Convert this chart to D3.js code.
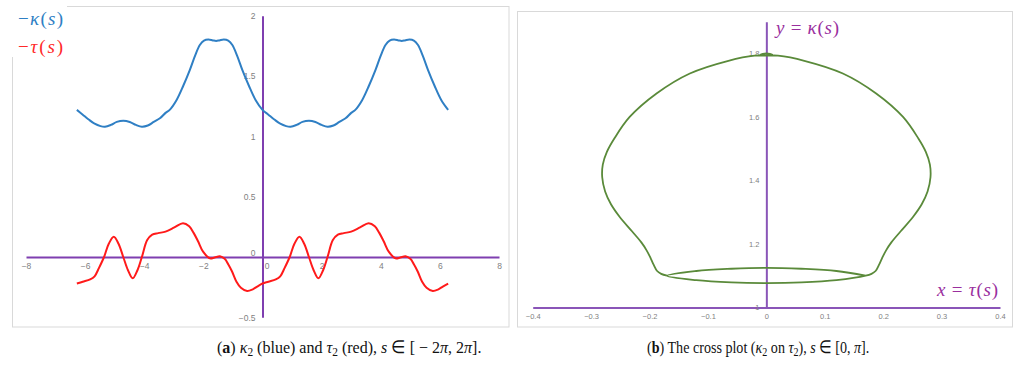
<!DOCTYPE html>
<html><head><meta charset="utf-8">
<script src="https://cdn.jsdelivr.net/npm/d3@7/dist/d3.min.js"></script>
<style>body{margin:0;background:#fff;} svg{display:block;}</style>
</head><body>
<svg id="c" width="1015" height="370"></svg>
<script>
// ---- Panel (a): kappa (blue) and tau (red) over s in [-2pi, 2pi]
const kappaS = [-6.28,-6.08,-5.88,-5.68,-5.48,-5.33,-5.13,-4.93,-4.71,-4.49,-4.28,-4.08,-3.88,-3.68,-3.47,-3.28,-3.14,-2.91,-2.68,-2.46,-2.28,-2.12,-1.98,-1.83,-1.68,-1.57,-1.46,-1.31,-1.16,-1.02,-0.86,-0.68,-0.46,-0.23,
  0,0.2,0.4,0.6,0.8,0.95,1.15,1.35,1.57,1.79,2.0,2.2,2.4,2.6,2.81,3.0,3.14,3.37,3.6,3.82,4.0,4.16,4.3,4.45,4.6,4.71,4.82,4.97,5.12,5.26,5.42,5.6,5.82,6.05,6.28];
const kappaV = [1.22,1.18,1.14,1.105,1.085,1.08,1.095,1.12,1.13,1.12,1.095,1.08,1.09,1.12,1.15,1.195,1.22,1.30,1.42,1.55,1.67,1.758,1.795,1.803,1.796,1.792,1.796,1.803,1.795,1.758,1.67,1.55,1.42,1.30,
  1.22,1.18,1.14,1.105,1.085,1.08,1.095,1.12,1.13,1.12,1.095,1.08,1.09,1.12,1.15,1.195,1.22,1.30,1.42,1.55,1.67,1.758,1.795,1.803,1.796,1.792,1.796,1.803,1.795,1.758,1.67,1.55,1.42,1.30,1.22];
const tauS = [-6.28,-6.08,-5.83,-5.68,-5.53,-5.36,-5.20,-5.03,-4.87,-4.71,-4.55,-4.39,-4.23,-4.08,-3.90,-3.73,-3.53,-3.28,-2.98,-2.69,-2.48,-2.33,-2.18,-2.01,-1.78,-1.62,-1.44,-1.28,-1.16,-1.03,-0.88,-0.73,-0.52,-0.33,-0.18,
  0,0.2,0.45,0.6,0.75,0.92,1.08,1.25,1.41,1.57,1.73,1.89,2.05,2.2,2.38,2.55,2.75,3.0,3.3,3.59,3.8,3.95,4.1,4.27,4.5,4.66,4.84,5.0,5.12,5.25,5.4,5.55,5.76,5.95,6.1,6.28];
const tauV = [-0.22,-0.205,-0.186,-0.16,-0.09,0,0.11,0.168,0.11,0,-0.11,-0.177,-0.11,0,0.14,0.185,0.198,0.21,0.245,0.28,0.255,0.2,0.13,0.044,-0.011,-0.004,0.006,-0.015,-0.06,-0.12,-0.205,-0.255,-0.282,-0.268,-0.245,
  -0.22,-0.205,-0.186,-0.16,-0.09,0,0.11,0.168,0.11,0,-0.11,-0.177,-0.11,0,0.14,0.185,0.198,0.21,0.245,0.28,0.255,0.2,0.13,0.044,-0.011,-0.004,0.006,-0.015,-0.06,-0.12,-0.205,-0.255,-0.282,-0.268,-0.245,-0.22];
const xTicksA = [-8,-6,-4,-2,0,2,4,6,8];
const yTicksA = [-0.5,0,0.5,1,1.5,2];

// ---- Panel (b): cross plot (kappa on tau), s in [0, pi]
const crossTau = [-0.170,-0.180,-0.187,-0.193,-0.198,-0.205,-0.214,-0.230,-0.251,-0.266,-0.276,-0.281,-0.280,-0.273,-0.260,-0.234,-0.188,-0.131,-0.065,-0.020,
  0.000,0.010,0.000,-0.010,0.000,
  0.020,0.065,0.131,0.188,0.234,0.260,0.273,0.280,0.281,0.276,0.266,0.251,0.230,0.214,0.205,0.198,0.193,0.187,0.180,0.170,
  0.120,0.060,0.000,-0.060,-0.120,-0.170,
  -0.120,-0.060,0.000,0.060,0.120,0.170];
const crossKappa = [1.100,1.106,1.115,1.135,1.155,1.180,1.205,1.240,1.285,1.325,1.365,1.410,1.450,1.490,1.533,1.600,1.674,1.737,1.777,1.793,
  1.7935,1.7965,1.800,1.7965,1.7935,
  1.793,1.777,1.737,1.674,1.600,1.533,1.490,1.450,1.410,1.365,1.325,1.285,1.240,1.205,1.180,1.155,1.135,1.115,1.106,1.100,
  1.086,1.079,1.077,1.079,1.086,1.100,
  1.115,1.122,1.125,1.122,1.115,1.100];
const xTicksB = [-0.4,-0.3,-0.2,-0.1,0,0.1,0.2,0.3,0.4];
const yTicksB = [1,1.2,1.4,1.6,1.8];

const svg = d3.select("#c");
const AXIS = "#7f3fb0", TICK = "#7f7f7f", BORDER = "#d9d9d9";
const tickFont = "Liberation Sans, Arial, sans-serif";

// ---------- Panel (a)
svg.append("rect").attr("x",12.5).attr("y",6.5).attr("width",496.5).attr("height",320.5)
  .attr("fill","none").attr("stroke",BORDER).attr("stroke-width",1);
svg.append("rect").attr("x",0).attr("y",0).attr("width",67).attr("height",57).attr("fill","#fff");

const xA = d3.scaleLinear().domain([-8,8]).range([26,499]);
const yA = d3.scaleLinear().domain([-0.5,2]).range([317.3,15.8]);

const gxA = svg.append("g").attr("transform",`translate(0,${yA(0)})`)
  .call(d3.axisBottom(xA).tickValues(xTicksA).tickSize(0).tickSizeOuter(0).tickPadding(6).tickFormat(d3.format("")));
const gyA = svg.append("g").attr("transform",`translate(${xA(0)},0)`)
  .call(d3.axisLeft(yA).tickValues(yTicksA).tickSize(0).tickSizeOuter(0).tickPadding(7).tickFormat(d3.format("")));
[gxA, gyA].forEach(g=>{
  g.select(".domain").attr("stroke",AXIS).attr("stroke-width",2);
  g.selectAll("text").attr("fill",TICK).attr("font-size",8.5).attr("font-family",tickFont);
});
gxA.selectAll(".tick").filter(d=>d===0).select("text").attr("dx",4);
gyA.selectAll(".tick").filter(d=>d===0).select("text").attr("dy","-0.2em");

const lineK = d3.line().x((d,i)=>xA(kappaS[i])).y(d=>yA(d)).curve(d3.curveCatmullRom.alpha(0.5));
const lineT = d3.line().x((d,i)=>xA(tauS[i])).y(d=>yA(d)).curve(d3.curveCatmullRom.alpha(0.5));
svg.append("path").attr("d",lineK(kappaV)).attr("fill","none").attr("stroke","#2f7fc4").attr("stroke-width",2);
svg.append("path").attr("d",lineT(tauV)).attr("fill","none").attr("stroke","#ff1a1a").attr("stroke-width",2);

// legend / axis titles
const mathFont = "Liberation Serif, Times New Roman, serif";
function mathLabel(x,y,parts,color,size,len){
  const t = svg.append("text").attr("x",x).attr("y",y).attr("fill",color)
    .attr("font-family",mathFont).attr("font-size",size);
  if(len) t.attr("textLength",len).attr("lengthAdjust","spacing");
  parts.forEach(p=>{ t.append("tspan").attr("font-style",p[1]?"italic":"normal").text(p[0]); });
  return t;
}
mathLabel(18,25,[["−",0],["κ",1],["(",0],["s",1],[")",0]],"#2f7fc4",19,45);
mathLabel(18,53,[["−",0],["τ",1],["(",0],["s",1],[")",0]],"#ff2a2a",19,45);

// ---------- Panel (b)
svg.append("rect").attr("x",517.5).attr("y",11.5).attr("width",495).attr("height",315.5)
  .attr("fill","none").attr("stroke",BORDER).attr("stroke-width",1);

const xB = d3.scaleLinear().domain([-0.4,0.4]).range([532.7,1000]);
const yB = d3.scaleLinear().domain([1,1.9]).range([307.5,21.7]);

const gxB = svg.append("g").attr("transform",`translate(0,${yB(1)})`)
  .call(d3.axisBottom(xB).tickValues(xTicksB).tickSize(0).tickSizeOuter(0).tickPadding(6).tickFormat(d3.format("")));
const gyB = svg.append("g").attr("transform",`translate(${xB(0)},0)`)
  .call(d3.axisLeft(yB).tickValues(yTicksB).tickSize(0).tickSizeOuter(0).tickPadding(7).tickFormat(d3.format("")));
[gxB, gyB].forEach(g=>{
  g.select(".domain").attr("stroke","#8a55b8").attr("stroke-width",2);
  g.selectAll("text").attr("fill",TICK).attr("font-size",7.5).attr("font-family",tickFont);
});

const lineC = d3.line().x(d=>xB(d)).y((d,i)=>yB(crossKappa[i])).curve(d3.curveCatmullRom.alpha(0.5));
svg.append("path").attr("d",lineC(crossTau)).attr("fill","none").attr("stroke","#5a8a3a").attr("stroke-width",1.8);

mathLabel(776,34,[["y",1],[" = ",0],["κ",1],["(",0],["s",1],[")",0]],"#9a2f9e",19,63);
mathLabel(937,296,[["x",1],[" = ",0],["τ",1],["(",0],["s",1],[")",0]],"#9a2f9e",19,61);

// ---------- Captions (one text each, horizontally fitted with a transform)
const capFont = "Liberation Serif, Times New Roman, serif";
function caption(x,y,len,parts){
  const g = svg.append("g");
  const t = g.append("text").attr("x",0).attr("y",0).attr("fill","#111")
    .attr("font-family",capFont).attr("font-size",17.5);
  let down = false;
  parts.forEach(p=>{
    const s = t.append("tspan").text(p[0]);
    if(p[1]==="b") s.attr("font-weight","bold");
    if(p[1]==="i") s.attr("font-style","italic");
    if(p[1]==="sub"){ s.attr("font-size",12.5).attr("dy",3); down = true; }
    else if(down){ s.attr("dy",-3); down = false; }
  });
  const w = t.node().getComputedTextLength() || len;
  g.attr("transform",`translate(${x},${y}) scale(${len/w},1)`);
}
caption(217,353,265,[["(",""],["a","b"],[") ",""],["κ","i"],["2","sub"],[" (blue) and ",""],["τ","i"],["2","sub"],[" (red), ",""],["s","i"],[" ∈ [ − 2",""],["π","i"],[", 2",""],["π","i"],["].",""]]);
caption(647,353,223,[["(",""],["b","b"],[") The cross plot (",""],["κ","i"],["2","sub"],[" on ",""],["τ","i"],["2","sub"],["), ",""],["s","i"],[" ∈ [0, ",""],["π","i"],["].",""]]);
</script>
</body></html>
